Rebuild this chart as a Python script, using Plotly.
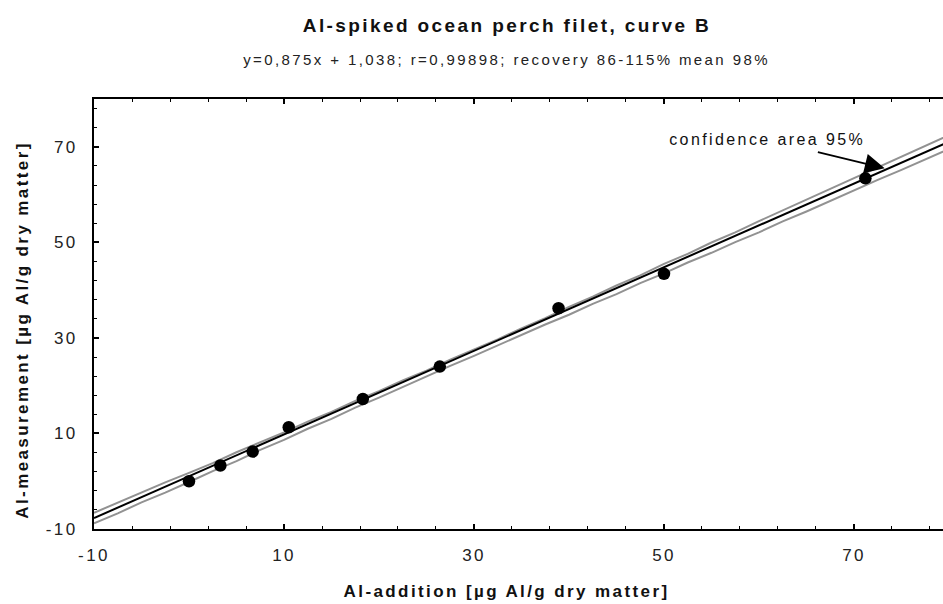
import plotly.graph_objects as go

# measured points (Al-addition, Al-measurement)
added = [0.0, 3.3, 6.7, 10.5, 18.3, 26.4, 38.9, 50.0, 71.2]
measured = [0.0, 3.3, 6.2, 11.3, 17.2, 24.0, 36.2, 43.4, 63.4]

# regression line y=0,875x + 1,038 (endpoints)
fit_x = [-10, 80]
fit_y = [-7.71, 71.04]

# 95% confidence band
band_x = [-10, -7.5, -5, -2.5, 0, 2.5, 5, 7.5, 10, 12.5, 15, 17.5, 20, 22.5, 25, 27.5, 30, 32.5,
          35, 37.5, 40, 42.5, 45, 47.5, 50, 52.5, 55, 57.5, 60, 62.5, 65, 67.5, 70, 72.5, 75, 77.5, 80]
band_upper = [-6.61, -4.47, -2.49, -0.25, 1.74, 3.78, 6.06, 8.10, 10.24, 12.48, 14.51, 16.80, 18.84,
              21.08, 23.16, 25.45, 27.59, 29.68, 32.01, 34.15, 36.49, 38.63, 40.96, 43.10, 45.49,
              47.58, 49.96, 52.10, 54.44, 56.68, 58.91, 61.25, 63.39, 65.68, 67.96, 70.10, 72.44]
band_lower = [-8.81, -6.72, -4.44, -2.40, -0.16, 2.13, 4.21, 6.55, 8.64, 10.98, 13.06, 15.40, 17.49,
              19.73, 21.81, 24.15, 26.24, 28.48, 30.56, 32.80, 34.84, 37.13, 39.16, 41.45, 43.49,
              45.78, 47.81, 50.05, 52.09, 54.38, 56.46, 58.70, 60.79, 63.08, 65.16, 67.40, 69.54]

tick_vals = [-10, 10, 30, 50, 70]
tick_text = ["-10", "10", "30", "50", "70"]

title = "Al-spiked ocean perch filet, curve B"
subtitle = "y=0,875x + 1,038; r=0,99898; recovery 86-115% mean 98%"
x_title = "Al-addition [µg Al/g dry matter]"
y_title = "Al-measurement [µg Al/g dry matter]"
band_label = "confidence area 95%"

FONT = "Liberation Sans, Arial, sans-serif"
GRAY = "#929292"

fig = go.Figure()
fig.add_trace(go.Scatter(x=band_x, y=band_upper, mode="lines",
                         line=dict(color=GRAY, width=2), hoverinfo="skip"))
fig.add_trace(go.Scatter(x=band_x, y=band_lower, mode="lines",
                         line=dict(color=GRAY, width=2), hoverinfo="skip"))
fig.add_trace(go.Scatter(x=fit_x, y=fit_y, mode="lines",
                         line=dict(color="black", width=2), hoverinfo="skip"))
fig.add_trace(go.Scatter(x=added, y=measured, mode="markers",
                         marker=dict(color="black", size=12.5)))

axis_common = dict(
    showgrid=False, zeroline=False, showline=True, linecolor="black", linewidth=2,
    ticks="inside", ticklen=5, tickwidth=1.5, tickcolor="black",
    tickmode="array", tickvals=tick_vals, ticktext=tick_text,
    tickfont=dict(family=FONT, size=17, color="#222"),
    minor=dict(ticks="inside", ticklen=3, tickwidth=1.2, tickcolor="black",
               tickmode="linear", dtick=4, tick0=-10, showgrid=False),
)

fig.update_layout(
    width=943, height=604,
    margin=dict(l=94, r=0, t=99, b=75),
    paper_bgcolor="white", plot_bgcolor="white",
    showlegend=False,
    xaxis=dict(range=[-10, 79.37], mirror="ticks", ticklabelstandoff=10, **axis_common),
    yaxis=dict(range=[-10, 80], ticklabelstandoff=11, **axis_common),
    annotations=[
        dict(text="<b>" + title + "</b>", xref="paper", yref="paper", x=0.486, y=1.1705,
             xanchor="center", yanchor="middle", showarrow=False,
             font=dict(family=FONT, size=19, color="#111")),
        dict(text=subtitle, xref="paper", yref="paper", x=0.486, y=1.0914,
             xanchor="center", yanchor="middle", showarrow=False,
             font=dict(family=FONT, size=15, color="#222")),
        dict(text="<b>" + x_title + "</b>", xref="paper", yref="paper", x=0.486, y=-0.1458,
             xanchor="center", yanchor="middle", showarrow=False,
             font=dict(family=FONT, size=17, color="#111")),
        dict(text="<b>" + y_title + "</b>", xref="paper", yref="paper", x=-0.0836, y=0.4635,
             xanchor="center", yanchor="middle", showarrow=False, textangle=-90,
             font=dict(family=FONT, size=17, color="#111")),
        dict(text=band_label, xref="x", yref="y", x=60.8, y=71.5,
             xanchor="center", yanchor="middle", showarrow=False,
             font=dict(family=FONT, size=16, color="#111")),
        dict(text="", xref="x", yref="y", x=73.23, y=65.48, ax=66.04, ay=68.95,
             axref="x", ayref="y", showarrow=True, arrowhead=2, arrowsize=2.2,
             arrowwidth=1.8, arrowcolor="black"),
    ],
)

post = """
document.querySelectorAll('svg text').forEach(function(t){ t.style.letterSpacing = '2.4px'; });
"""
fig.write_html("out.html", post_script=post)
